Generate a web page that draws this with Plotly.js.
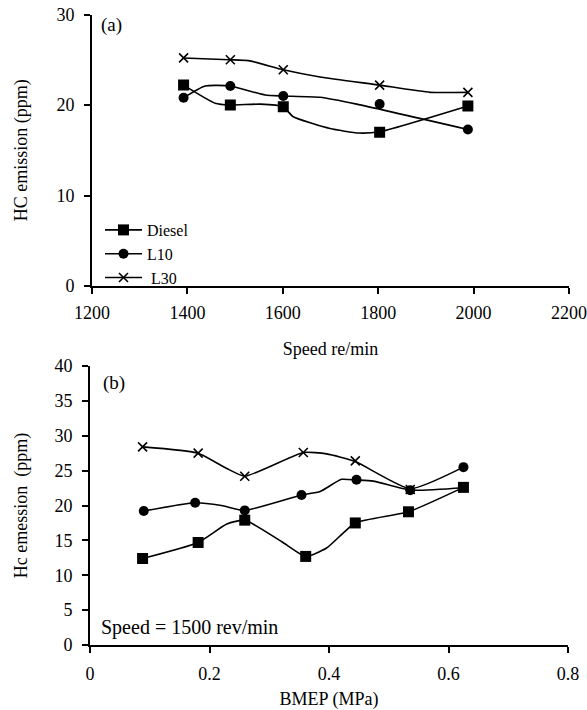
<!DOCTYPE html>
<html>
<head>
<meta charset="utf-8">
<script src="https://cdn.plot.ly/plotly-3.0.1.min.js"></script>
<style>html,body{margin:0;padding:0;background:#fff;}#chart{width:587px;height:710px;}</style>
</head>
<body>
<div id="chart"></div>
<script>
// ---- Panel (a): HC emission vs speed ----
var speed = [1392, 1490, 1601, 1803, 1988];
var dieselA = [22.2, 20.0, 19.8, 17.0, 19.9];
var l10A = [20.8, 22.1, 21.0, 20.1, 17.3];
var l30A = [25.2, 25.0, 23.9, 22.2, 21.4];

// smoothed curves as drawn in panel (a)
var dieselCurveAX = [1392, 1458, 1490, 1553, 1601, 1622, 1699, 1759, 1803, 1988];
var dieselCurveAY = [22.2, 20.2, 20.0, 20.1, 19.8, 18.7, 17.4, 16.9, 17.05, 19.9];
var l10CurveAX = [1392, 1437, 1490, 1563, 1601, 1678, 1755, 1988];
var l10CurveAY = [20.8, 22.1, 22.1, 21.1, 21.0, 20.85, 20.1, 17.3];
var l30CurveAX = [1392, 1488, 1528, 1601, 1678, 1803, 1909, 1988];
var l30CurveAY = [25.2, 25.0, 24.9, 23.9, 23.1, 22.2, 21.4, 21.4];

// ---- Panel (b): HC emission vs BMEP ----
var bmepDiesel = [0.088, 0.181, 0.259, 0.361, 0.444, 0.533, 0.625];
var dieselB = [12.4, 14.7, 17.9, 12.7, 17.5, 19.1, 22.6];
var bmepL10 = [0.090, 0.176, 0.259, 0.354, 0.446, 0.536, 0.625];
var l10B = [19.2, 20.4, 19.3, 21.5, 23.7, 22.2, 25.5];
var bmepL30 = [0.088, 0.181, 0.259, 0.357, 0.444, 0.536];
var l30B = [28.4, 27.5, 24.2, 27.6, 26.4, 22.3];

// curves as drawn in panel (b)
var dieselCurveBX = [0.088, 0.181, 0.229, 0.259, 0.321, 0.361, 0.396, 0.444, 0.533, 0.625];
var dieselCurveBY = [12.4, 14.7, 17.35, 17.9, 14.8, 12.7, 13.9, 17.5, 19.1, 22.6];
var l10CurveBX = [0.090, 0.176, 0.220, 0.259, 0.354, 0.385, 0.421, 0.446, 0.474, 0.536, 0.625];
var l10CurveBY = [19.2, 20.4, 20.0, 19.3, 21.5, 22.0, 23.75, 23.65, 23.5, 22.2, 22.55];
var l30CurveBX = [0.088, 0.181, 0.229, 0.259, 0.357, 0.396, 0.444, 0.536, 0.625];
var l30CurveBY = [28.4, 27.5, 25.3, 24.2, 27.6, 27.4, 26.3, 22.4, 25.5];

var seriesNames = ['Diesel', 'L10', 'L30'];
var symbols = ['square', 'circle', 'x-thin-open'];
var msizes = [11, 10, 9];

var FONT = "'Liberation Serif', 'Times New Roman', serif";
var lineStyle = {color: '#000', width: 1.6, shape: 'spline', smoothing: 0.5};

function curve(x, y, xa, ya) {
  return {x: x, y: y, xaxis: xa, yaxis: ya, mode: 'lines', line: lineStyle,
          showlegend: false, hoverinfo: 'skip'};
}
function marks(x, y, i, xa, ya) {
  return {x: x, y: y, xaxis: xa, yaxis: ya, mode: 'markers', showlegend: false,
          name: seriesNames[i],
          marker: {symbol: symbols[i], size: msizes[i], color: '#000',
                   line: {color: '#000', width: i === 2 ? 1.6 : 0}}};
}

var traces = [
  curve(dieselCurveAX, dieselCurveAY, 'x', 'y'),
  curve(l10CurveAX, l10CurveAY, 'x', 'y'),
  curve(l30CurveAX, l30CurveAY, 'x', 'y'),
  marks(speed, dieselA, 0, 'x', 'y'),
  marks(speed, l10A, 1, 'x', 'y'),
  marks(speed, l30A, 2, 'x', 'y'),
  curve(dieselCurveBX, dieselCurveBY, 'x2', 'y2'),
  curve(l10CurveBX, l10CurveBY, 'x2', 'y2'),
  curve(l30CurveBX, l30CurveBY, 'x2', 'y2'),
  marks(bmepDiesel, dieselB, 0, 'x2', 'y2'),
  marks(bmepL10, l10B, 1, 'x2', 'y2'),
  marks(bmepL30, l30B, 2, 'x2', 'y2')
];
// legend entries (line + marker)
for (var i = 0; i < 3; i++) {
  traces.push({x: [null], y: [null], xaxis: 'x', yaxis: 'y', mode: 'lines+markers',
    name: (i === 2 ? '\u00a0' : '') + seriesNames[i], showlegend: true,
    line: {color: '#000', width: 1.6},
    marker: {symbol: symbols[i], size: msizes[i], color: '#000',
             line: {color: '#000', width: i === 2 ? 1.6 : 0}}});
}

function axisBase(extra) {
  var a = {showline: true, linecolor: '#000', linewidth: 2, ticks: 'outside',
    ticklen: 6, tickwidth: 2, tickcolor: '#000', showgrid: false, zeroline: false,
    tickfont: {family: FONT, size: 18, color: '#000'}, fixedrange: true};
  for (var k in extra) a[k] = extra[k];
  return a;
}

var W = 587, H = 710;
var layout = {
  width: W, height: H,
  margin: {l: 0, r: 0, t: 0, b: 0},
  paper_bgcolor: '#fff', plot_bgcolor: '#fff',
  font: {family: FONT, size: 18, color: '#000'},
  showlegend: true,
  legend: {x: 100 / W, y: 1 - 213 / H, xanchor: 'left', yanchor: 'top',
    bgcolor: 'rgba(0,0,0,0)', font: {family: FONT, size: 16, color: '#000'},
    itemwidth: 37, tracegroupgap: 0},
  xaxis: axisBase({domain: [92 / W, 569 / W], range: [1200, 2200], dtick: 200, tick0: 1200,
    anchor: 'y', ticklabelstandoff: 3,
    title: {text: 'Speed re/min', font: {family: FONT, size: 18}, standoff: 21}}),
  yaxis: axisBase({domain: [1 - 286 / H, 1 - 14.5 / H], range: [0, 30], dtick: 10,
    anchor: 'x', ticklabelstandoff: 6,
    title: {text: 'HC emission (ppm)', font: {family: FONT, size: 18}, standoff: 24}}),
  xaxis2: axisBase({domain: [90 / W, 568 / W], range: [0, 0.8], dtick: 0.2, tick0: 0,
    anchor: 'y2', ticklabelstandoff: 5,
    title: {text: 'BMEP (MPa)', font: {family: FONT, size: 18}, standoff: 13}}),
  yaxis2: axisBase({domain: [1 - 645 / H, 1 - 366 / H], range: [0, 40], dtick: 5,
    anchor: 'x2', ticklabelstandoff: 6,
    title: {text: 'Hc emession &nbsp;(ppm)', font: {family: FONT, size: 18}, standoff: 22}}),
  annotations: [
    {text: '(a)', xref: 'x domain', yref: 'y domain', x: 0.015, y: 1.01,
     xanchor: 'left', yanchor: 'top', showarrow: false, font: {family: FONT, size: 19}},
    {text: '(b)', xref: 'x2 domain', yref: 'y2 domain', x: 0.022, y: 0.985,
     xanchor: 'left', yanchor: 'top', showarrow: false, font: {family: FONT, size: 19}},
    {text: 'Speed = 1500 rev/min', xref: 'x2 domain', yref: 'y2 domain', x: 0.018, y: 0.062,
     xanchor: 'left', yanchor: 'middle', showarrow: false, font: {family: FONT, size: 20}}
  ]
};

Plotly.newPlot('chart', traces, layout, {displayModeBar: false, staticPlot: true});
</script>
</body>
</html>
